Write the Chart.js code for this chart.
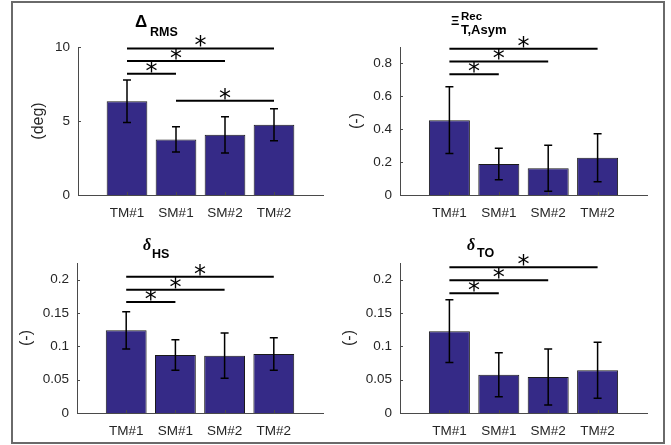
<!DOCTYPE html>
<html>
<head>
<meta charset="utf-8">
<script src="https://cdn.jsdelivr.net/npm/chart.js@4.4.1/dist/chart.umd.min.js"></script>
<style>
  html, body { margin: 0; padding: 0; background: #fff; }
  #wrap { position: relative; width: 671px; height: 445px; overflow: hidden; background: #fff; }
  canvas { position: absolute; }
  #frame { position: absolute; left: 11px; top: 1px; width: 654px; height: 443px; box-sizing: border-box;
           border: 2px solid #6a6a6a; pointer-events: none; }
</style>
</head>
<body>
<div id="wrap">
  <canvas id="c1" width="335" height="222" style="left:0;top:0"></canvas>
  <canvas id="c2" width="336" height="222" style="left:335px;top:0"></canvas>
  <canvas id="c3" width="335" height="223" style="left:0;top:222px"></canvas>
  <canvas id="c4" width="336" height="223" style="left:335px;top:222px"></canvas>
  <div id="frame"></div>
</div>
<script>
// ---------------- data ----------------
const categories = ['TM#1', 'SM#1', 'SM#2', 'TM#2'];

const rmsMean  = [6.335, 3.755, 4.065, 4.75];
const rmsSd    = [1.435, 0.855, 1.225, 1.08];
const rmsTicks = [0, 5, 10];
const rmsSig   = [[0, 3, 9.9], [0, 2, 9.05], [0, 1, 8.2], [1, 3, 6.37]];

const asymMean  = [0.455, 0.189, 0.1625, 0.2265];
const asymSd    = [0.203, 0.096, 0.140, 0.1455];
const asymTicks = [0, 0.2, 0.4, 0.6, 0.8];
const asymSig   = [[0, 3, 0.889], [0, 2, 0.812], [0, 1, 0.735]];

const hsMean  = [0.124, 0.087, 0.086, 0.0885];
const hsSd    = [0.028, 0.023, 0.034, 0.0245];
const gaitTicks = [0, 0.05, 0.1, 0.15, 0.2];
const hsSig   = [[0, 3, 0.2045], [0, 2, 0.185], [0, 1, 0.1665]];

const toMean  = [0.1228, 0.0575, 0.054, 0.064];
const toSd    = [0.047, 0.033, 0.042, 0.042];
const toSig   = [[0, 3, 0.2185], [0, 2, 0.199], [0, 1, 0.1795]];

// ---------------- style ----------------
const FONT = '"Liberation Sans", Arial, Helvetica, sans-serif';
const TXT = '#262626';
const BAR = '#352A87';
Chart.defaults.font.family = FONT;
Chart.defaults.font.size = 13;
Chart.defaults.color = TXT;

function makePanel(id, cfg) {
  const labels = [''].concat(categories, ['']);
  const data = [null].concat(cfg.mean, [null]);
  const plugin = {
    id: 'panel_' + id,
    afterDatasetsDraw(chart) {
      const ctx = chart.ctx, xs = chart.scales.x, ys = chart.scales.y;
      ctx.save();
      ctx.strokeStyle = '#000';
      ctx.lineWidth = 1.5;
      cfg.mean.forEach((m, i) => {
        const x = xs.getPixelForValue(i + 1);
        const yt = ys.getPixelForValue(m + cfg.sd[i]);
        const yb = ys.getPixelForValue(m - cfg.sd[i]);
        ctx.beginPath();
        ctx.moveTo(x, yt); ctx.lineTo(x, yb);
        ctx.moveTo(x - 4, yt); ctx.lineTo(x + 4, yt);
        ctx.moveTo(x - 4, yb); ctx.lineTo(x + 4, yb);
        ctx.stroke();
      });
      ctx.restore();
    },
    afterDraw(chart) {
      const ctx = chart.ctx, xs = chart.scales.x, ys = chart.scales.y;
      const a = chart.chartArea;
      ctx.save();
      // inward ticks
      ctx.strokeStyle = '#4a4a4a';
      ctx.lineWidth = 1;
      ctx.beginPath();
      cfg.ticks.forEach(v => {
        const y = Math.round(ys.getPixelForValue(v)) + 0.5;
        ctx.moveTo(a.left, y); ctx.lineTo(a.left + 3, y);
      });
      categories.forEach((c, i) => {
        const x = Math.round(xs.getPixelForValue(i + 1)) + 0.5;
        ctx.moveTo(x, a.bottom); ctx.lineTo(x, a.bottom - 3);
      });
      ctx.stroke();
      // significance lines
      ctx.strokeStyle = '#000';
      ctx.lineWidth = 2;
      ctx.fillStyle = '#000';
      ctx.font = '24px "DejaVu Sans", sans-serif';
      ctx.textAlign = 'center';
      ctx.textBaseline = 'alphabetic';
      const m = ctx.measureText('*');
      const asc = m.actualBoundingBoxAscent, desc = m.actualBoundingBoxDescent;
      cfg.sig.forEach(s => {
        const x1 = xs.getPixelForValue(s[0] + 1);
        const x2 = xs.getPixelForValue(s[1] + 1);
        const y = ys.getPixelForValue(s[2]);
        ctx.beginPath();
        ctx.moveTo(x1, y); ctx.lineTo(x2, y);
        ctx.stroke();
        const cy = y - 7;
        ctx.fillText('*', (x1 + x2) / 2, cy - (desc - asc) / 2);
      });
      // y axis label
      ctx.font = '13px ' + FONT;
      let w = 0;
      cfg.ticks.forEach(v => { w = Math.max(w, ctx.measureText(String(v)).width); });
      const lx = a.left - 8 - w - 17;
      ctx.fillStyle = TXT;
      ctx.translate(lx, (a.top + a.bottom) / 2);
      ctx.rotate(-Math.PI / 2);
      ctx.font = '16px ' + FONT;
      ctx.textAlign = 'center';
      ctx.textBaseline = 'middle';
      ctx.fillText(cfg.ylabel, 0, 0);
      ctx.restore();
      // title
      ctx.save();
      ctx.fillStyle = '#000';
      ctx.textAlign = 'left';
      ctx.textBaseline = 'alphabetic';
      cfg.title.forEach(t => {
        ctx.font = t.font;
        ctx.fillText(t.text, a.left + t.dx, a.top + t.dy);
      });
      ctx.restore();
    }
  };

  return new Chart(document.getElementById(id), {
    type: 'bar',
    data: {
      labels: labels,
      datasets: [{
        data: data,
        backgroundColor: BAR,
        borderColor: '#1a1a1a',
        borderWidth: 1,
        barPercentage: 0.83,
        categoryPercentage: 1.0
      }]
    },
    options: {
      responsive: false,
      animation: false,
      devicePixelRatio: 1,
      layout: { padding: { top: cfg.padTop, right: cfg.padRight, left: 0, bottom: 0 } },
      plugins: { legend: { display: false }, tooltip: { enabled: false }, title: { display: false } },
      scales: {
        x: {
          type: 'category',
          offset: false,
          grid: { display: false, drawTicks: false },
          border: { display: true, color: '#4a4a4a', width: 1 },
          ticks: { autoSkip: false, maxRotation: 0, minRotation: 0, padding: 10, color: TXT, font: { size: 13.5 } },
          afterFit: s => { s.height = cfg.xHeight; }
        },
        y: {
          min: 0,
          max: cfg.max,
          grid: { display: false, drawTicks: false },
          border: { display: true, color: '#4a4a4a', width: 1 },
          ticks: { padding: 8, color: TXT, font: { size: 13.5 }, callback: v => String(v) },
          afterBuildTicks: s => { s.ticks = cfg.ticks.map(v => ({ value: v })); },
          afterFit: s => { s.width = cfg.yWidth; }
        }
      }
    },
    plugins: [plugin]
  });
}

const TB = 'bold ';
makePanel('c1', {
  mean: rmsMean, sd: rmsSd, ticks: rmsTicks, sig: rmsSig, max: 10, ylabel: '(deg)',
  yWidth: 78, padRight: 12, padTop: 47, xHeight: 27,
  title: [
    { text: 'Δ', font: TB + '17px ' + FONT, dx: 57, dy: -20 },
    { text: 'RMS', font: TB + '12.5px ' + FONT, dx: 72, dy: -11 }
  ]
});
makePanel('c2', {
  mean: asymMean, sd: asymSd, ticks: asymTicks, sig: asymSig, max: 0.9, ylabel: '(-)',
  yWidth: 65, padRight: 24, padTop: 47, xHeight: 27,
  title: [
    { text: 'Ξ', font: TB + '13px ' + FONT, dx: 51, dy: -22 },
    { text: 'Rec', font: TB + '11.5px ' + FONT, dx: 61, dy: -27 },
    { text: 'T,Asym', font: TB + '13px ' + FONT, dx: 61, dy: -13 }
  ]
});
makePanel('c3', {
  mean: hsMean, sd: hsSd, ticks: gaitTicks, sig: hsSig, max: 0.225, ylabel: '(-)',
  yWidth: 77, padRight: 12, padTop: 41, xHeight: 32,
  title: [
    { text: 'δ', font: 'bold italic 16px "Liberation Serif", serif', dx: 66, dy: -13 },
    { text: 'HS', font: TB + '12.5px ' + FONT, dx: 75, dy: -5 }
  ]
});
makePanel('c4', {
  mean: toMean, sd: toSd, ticks: gaitTicks, sig: toSig, max: 0.225, ylabel: '(-)',
  yWidth: 65, padRight: 24, padTop: 41, xHeight: 32,
  title: [
    { text: 'δ', font: 'bold italic 16px "Liberation Serif", serif', dx: 67, dy: -13 },
    { text: 'TO', font: TB + '12.5px ' + FONT, dx: 77, dy: -6 }
  ]
});
</script>
</body>
</html>
